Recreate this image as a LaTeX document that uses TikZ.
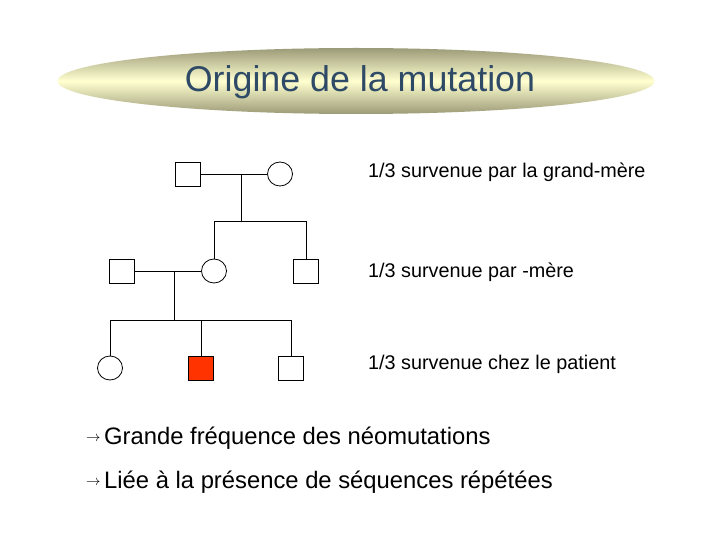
\documentclass[tikz,border=0pt]{standalone}
\usepackage{fontspec}
\setmainfont{Liberation Sans}
\usetikzlibrary{shapes.geometric}
\definecolor{titleblue}{HTML}{2E4A66}
\definecolor{olive}{HTML}{9C9B78}
\definecolor{paleyel}{HTML}{FFFFD0}
\definecolor{patientred}{HTML}{FF3300}
\begin{document}
\begin{tikzpicture}[x=1pt,y=-1pt,
  male/.style={draw=black,line width=0.8pt,minimum width=25pt,minimum height=24pt,inner sep=0pt},
  female/.style={draw=black,line width=0.8pt,ellipse,minimum width=25pt,minimum height=24pt,inner sep=0pt},
  link/.style={line width=0.8pt},
  note/.style={anchor=west,font=\fontsize{19.8}{23}\selectfont,inner sep=0pt},
  bullet/.style={anchor=west,font=\fontsize{23.8}{28}\selectfont,inner sep=0pt},
  arrowsym/.style={anchor=west,inner sep=0pt,font=\fontsize{14}{16}\selectfont}]
\useasboundingbox (0,0) rectangle (720,540);
% title
\node[ellipse,minimum width=597pt,minimum height=66pt,inner sep=0pt,
  top color=olive,bottom color=olive,middle color=paleyel] (title) at (356,81) {};
\node[text=titleblue,font=\fontsize{35.8}{40}\selectfont] (titletext) at (360,82) {Origine de la mutation};
% generation I
\node[male] (gf) at (188,174) {};
\node[female] (gm) at (280,174) {};
\coordinate (m1) at (241,174);
\coordinate (s1) at (241,221);
\coordinate (s1l) at (214,221);
\coordinate (s1r) at (306,221);
% generation II
\node[male] (fa) at (122,271) {};
\node[female] (mo) at (214,271) {};
\node[male] (un) at (306,271) {};
\coordinate (m2) at (174,271);
\coordinate (s2) at (174,320);
\coordinate (s2l) at (110,320);
\coordinate (s2m) at (201,320);
\coordinate (s2r) at (291,320);
% generation III
\node[female] (si) at (110,368) {};
\node[male,fill=patientred] (pa) at (201,368) {};
\node[male] (br) at (291,368) {};
% links
\draw[link] (gf) -- (gm);
\draw[link] (m1) -- (s1);
\draw[link] (s1l) -- (s1r);
\draw[link] (s1l) -- (mo.north);
\draw[link] (s1r) -- (un.north);
\draw[link] (fa) -- (mo);
\draw[link] (m2) -- (s2);
\draw[link] (s2l) -- (s2r);
\draw[link] (s2l) -- (si.north);
\draw[link] (s2m) -- (pa.north);
\draw[link] (s2r) -- (br.north);
% notes
\node[note] (n1) at (368,172) {1/3 survenue par la grand-mère};
\node[note] (n2) at (368,272) {1/3 survenue par -mère};
\node[note] (n3) at (368,364) {1/3 survenue chez le patient};
% bullets
\node[arrowsym] (a1) at (86,439) {$\rightarrow$};
\node[bullet] (b1) at (104,438) {Grande fréquence des néomutations};
\node[arrowsym] (a2) at (86,483) {$\rightarrow$};
\node[bullet] (b2) at (104,482) {Liée à la présence de séquences répétées};
\end{tikzpicture}
\end{document}
